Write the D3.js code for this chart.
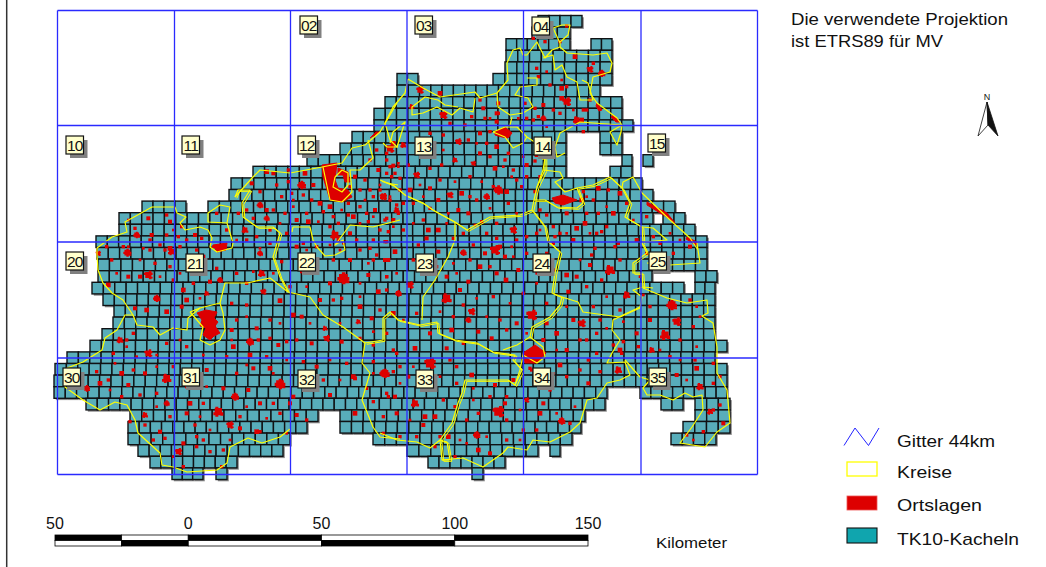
<!DOCTYPE html>
<html>
<head>
<meta charset="utf-8">
<script src="https://cdn.jsdelivr.net/npm/d3@7"></script>
<style>
  html, body { margin: 0; background: #fff; }
  svg { display: block; }
  text { font-family: "Liberation Sans", Arial, sans-serif; fill: #111; }
</style>
</head>
<body>
<svg id="map" width="1046" height="567"></svg>
<script>
// Grid of the 44 km sheets, in map units
const gridU = [7.5, 124.5, 240.5, 357, 473.5, 591, 707.5];
const gridV = [0.5, 115.5, 232, 348, 464.5];

// Sheet labels: name, map position of the box
const sheetNames = ["02", "03", "04", "10", "11", "12", "13", "14", "15", "20", "21", "22", "23", "24", "25", "30", "31", "32", "33", "34", "35"];
const sheetU = [250, 365, 482, 16, 132, 248, 365, 484, 598, 16, 136, 248, 366, 483, 599, 13, 132, 248, 366, 483, 599];
const sheetV = [6, 6, 7, 126, 126, 126, 127, 127, 124, 242, 244, 243, 244, 244, 242, 358, 358, 360, 360, 358, 358];

// TK10 tiles: runs of tiles per row, [from, to] in map units
const tileRuns = [
  [[488, 532]],
  [[482, 520]],
  [[456, 520], [541, 562]],
  [[456, 562]],
  [[455, 562]],
  [[347, 368], [443, 562]],
  [[347, 550]],
  [[335, 572]],
  [[324, 572]],
  [[324, 583]],
  [[302, 516], [550, 572]],
  [[290, 516], [550, 572]],
  [[257, 516], [572, 582], [593, 603]],
  [[203, 516], [560, 582]],
  [[181, 592]],
  [[179, 603]],
  [[92, 136], [158, 625]],
  [[69, 603], [613, 635]],
  [[69, 645]],
  [[46, 657]],
  [[47, 657]],
  [[48, 657]],
  [[48, 602], [645, 667]],
  [[42, 634], [645, 665]],
  [[53, 665]],
  [[64, 665]],
  [[63, 665]],
  [[52, 665]],
  [[40, 677]],
  [[17, 665]],
  [[5, 677]],
  [[4, 677]],
  [[4, 557], [590, 677]],
  [[36, 555], [611, 633], [645, 680]],
  [[80, 268], [290, 535], [645, 680]],
  [[78, 257], [290, 531], [633, 680]],
  [[78, 240], [323, 522], [621, 666]],
  [[88, 233], [357, 488], [500, 510]],
  [[100, 187], [378, 455]],
  [[122, 153], [166, 177], [422, 433]]
];

// Kreise boundaries in map units
const kreise = [
  [[47,238],[62,227],[77,222],[75,212],[102,197],[125,197],[127,203],[136,207],[130,213],[135,220],[150,217],[158,220],[162,228],[160,237],[167,242],[182,238],[183,233],[177,213],[180,197],[170,195],[158,203],[158,212],[177,213]],
  [[47,238],[47,245],[48,260],[53,273],[62,283],[73,290],[83,305],[87,315],[103,317],[110,325],[123,318],[137,320],[138,308],[150,298]],
  [[83,305],[75,305],[67,320],[55,328],[52,340],[33,352],[17,358],[15,377],[33,390],[50,400],[65,392],[77,395],[85,410],[88,423],[110,443],[112,455],[123,457],[137,462],[167,460],[177,453],[180,437],[198,428],[212,433],[230,427],[240,419]],
  [[140,302],[150,298],[170,293],[173,303],[175,320],[170,330],[160,335],[150,330],[153,317],[147,310],[140,302]],
  [[170,293],[175,273],[197,273],[220,268],[238,282],[260,287],[273,305],[293,317],[315,333],[312,353],[320,363],[312,390],[323,417],[330,427],[350,429]],
  [[315,333],[333,330],[333,308],[340,302],[348,310],[370,315],[387,312],[388,323],[405,330],[427,333],[443,342],[465,345],[463,350],[472,360],[465,375],[458,370],[415,370],[412,383],[408,393],[402,413],[390,430],[392,450],[400,450],[397,432],[390,430]],
  [[330,423],[347,430],[367,432],[380,438],[390,430]],
  [[392,450],[413,448],[433,457],[453,443],[458,437],[477,440],[483,430],[500,432],[520,422],[530,413],[537,390],[547,388],[557,373],[570,370],[580,365],[575,352],[557,353],[562,343],[570,330],[562,320],[563,310],[573,305],[590,297],[592,287],[583,280],[593,277],[603,278]],
  [[593,278],[617,288],[637,293],[657,290],[658,303],[652,306],[663,313],[667,337],[667,363],[677,380],[680,413],[667,422],[655,437],[630,433],[642,417],[653,400],[652,385],[643,387],[635,383],[623,390],[610,385],[597,385],[593,378],[600,370],[590,367],[575,350]],
  [[593,277],[592,263],[583,263],[583,253],[597,243],[592,233],[593,232],[592,217],[575,207],[580,193],[572,178],[560,167],[543,175],[527,178],[533,193],[527,198],[507,197],[495,190],[484,190]],
  [[597,253],[620,255],[650,253],[647,233],[648,240],[640,228],[620,210],[592,183],[583,167],[573,172],[572,178]],
  [[592,217],[603,218],[617,230],[593,232]],
  [[495,148],[495,160],[487,177],[484,190],[482,200],[470,205],[440,207],[417,220],[405,212],[383,200],[373,193],[355,185],[343,175],[330,170]],
  [[482,200],[495,217],[498,232],[500,233],[510,242],[505,263],[502,283],[512,287],[510,295],[500,307],[482,317],[480,327]],
  [[512,287],[528,292],[533,302],[570,307],[590,298]],
  [[453,340],[467,335],[480,327],[493,337],[495,347],[487,353],[473,345],[470,360],[465,375]],
  [[405,212],[405,230],[398,247],[385,270],[373,287],[372,310]],
  [[493,160],[510,162],[513,168],[505,172],[515,182],[527,178]],
  [[487,177],[493,160],[495,148]],
  [[358,69],[373,78],[390,87],[425,82],[430,88],[447,83],[458,70],[457,53],[463,40],[470,38],[473,45],[477,45],[487,32],[495,48],[502,40],[510,37],[517,43],[543,45],[557,43],[562,53],[560,62],[543,67],[540,83],[547,93],[567,108],[572,115],[560,122],[567,135],[571,122],[572,115]],
  [[510,37],[510,33],[503,18],[512,15],[520,15],[518,25],[510,32]],
  [[493,48],[503,45],[505,60],[512,55],[517,67],[527,72],[530,90],[543,90],[538,73],[532,70]],
  [[572,115],[543,113],[530,112],[510,123],[505,137],[507,147],[515,143]],
  [[358,69],[355,83],[343,97],[335,113],[340,130],[347,137],[355,112],[343,122],[340,133]],
  [[443,122],[455,117],[467,117],[477,127],[492,137],[493,150]],
  [[443,122],[455,127],[463,138],[473,133],[477,127]],
  [[462,107],[460,115]],
  [[447,83],[448,97],[460,105],[473,103],[483,97],[478,88],[465,85],[470,77],[487,75],[487,68],[477,68]],
  [[425,88],[423,102],[410,98],[402,105],[387,97],[373,103],[362,105],[362,97],[375,87],[388,90],[395,95],[408,97]],
  [[185,187],[203,167],[210,160],[240,163],[272,157],[292,153],[302,138],[315,135],[330,122],[347,93]],
  [[333,133],[337,137],[348,137]],
  [[318,130],[323,148],[310,160],[300,160],[302,182],[292,192],[280,190],[273,157]],
  [[285,167],[283,177],[292,182],[298,175],[298,163],[292,160],[285,167]],
  [[185,187],[188,180],[200,180],[192,193],[193,207],[207,217],[223,217],[230,223],[228,230],[223,247],[230,267],[238,282]],
  [[243,217],[260,217],[263,230],[267,237],[275,246],[285,245],[295,240],[293,230],[285,235],[300,215],[323,217],[350,210]],
  [[337,173],[348,175]],
  [[242,222],[243,217]]
];
// Neighbouring Kreise whose edges do not meet, drawn a second time slightly shifted
const kreiseDoppelt = [5, 9, 12, 13, 33];

// Larger Ortslagen outlines in map units
const ortsFlaechen = [
  [[272,155],[287,153],[285,170],[288,178],[298,180],[302,187],[292,192],[280,190],[277,180],[273,167]],
  [[288,158],[298,162],[300,172],[295,172],[293,165],[288,165]],
  [[147,303],[156,300],[167,302],[164,308],[168,312],[165,316],[170,323],[164,326],[160,330],[153,325],[156,318],[150,316],[152,310]],
  [[473,343],[485,335],[496,343],[487,353],[475,353]],
  [[502,188],[513,185],[527,190],[513,195],[505,193]],
  [[445,122],[455,117],[462,123],[458,128],[452,127],[445,125]],
  [[163,235],[177,233],[176,240],[167,242]],
  [[597,192],[617,203],[625,213],[615,206],[597,195]],
  [[637,227],[647,232],[646,235],[636,229]],
  [[563,105],[570,112],[566,112],[561,107]],
  [[547,93],[552,100],[549,101],[546,96]],
  [[330,122],[320,128],[326,122]]
];

// Small Ortslagen per map quarter: [x, y, size], read at 1/3 px
const ortsNW = [
  [700,520,12],[680,515,14],[795,520,14],[635,550,12],[660,575,10],[710,555,10],[745,545,10],[785,555,26],[820,555,12],[840,610,14],[790,585,10],[815,600,10],[725,590,10],[660,615,20],[620,630,10],[680,630,12],[680,655,18],[615,690,20],[650,710,10],[560,690,10],[530,640,10],[770,660,12],[805,665,14],[885,705,28],[740,700,10],[830,740,10],[790,730,10],[770,740,12],[870,620,14],[880,650,10],[925,610,10],[960,620,10],[940,650,14],[980,640,10],[1005,630,12],[870,680,10],[930,700,12],[1000,720,10],[1040,725,10],[1015,510,12],[990,480,10],[1040,460,10],[1060,430,14],[990,570,10],[1030,590,20],[1050,600,10],[945,530,12],[1000,590,10],[930,560,10],[290,705,20],[285,685,10],[325,655,12],[265,660,8],[380,645,10],[390,665,12],[335,705,12],[380,705,10],[425,680,10],[465,705,12],[390,745,14],[360,735,10],[440,720,10],[485,715,10],[420,740,10],[265,740,8],[1070,615,10],[1020,570,10],[1065,520,10],
  [745,510,10],[755,580,10],[760,600,8],[700,630,10],[735,640,10],[720,670,8],[690,690,10],[595,640,10],[590,720,8],[640,655,10],[850,635,10],[905,630,8],[895,670,10],[925,645,10],[960,670,8],[985,665,10],[1020,690,10],[1060,680,8],[1075,640,10],[1040,655,10],[1000,650,8],[960,570,10],[975,600,8],[895,720,10],[910,730,8],[950,720,10],[990,745,10],[870,735,8],[690,730,10],[660,745,8],[620,720,10],[760,620,8],[800,640,10],[835,665,8],[975,540,10],[1020,555,8],[1050,500,10],[1075,500,8],[330,720,10],[310,745,8],[415,710,10],[400,690,8],[1010,450,10]
];
const ortsNE = [
  [120,270,22],[180,280,14],[95,320,16],[190,345,24],[310,325,12],[355,340,10],[315,355,10],[275,350,10],[350,365,12],[210,370,10],[255,375,10],[300,400,12],[235,425,20],[190,405,10],[150,400,10],[330,395,10],[300,460,12],[330,470,10],[350,440,14],[385,460,10],[225,480,16],[280,490,16],[345,505,14],[375,480,10],[440,495,12],[465,483,10],[410,540,10],[110,525,20],[40,497,12],[85,495,10],[150,505,10],[185,495,10],[70,435,18],[30,445,26],[35,530,10],[60,535,10],[150,565,12],[90,570,14],[245,580,14],[210,585,20],[355,570,28],[270,590,10],[380,575,14],[320,590,20],[50,630,18],[10,590,22],[100,610,10],[175,600,12],[235,630,12],[265,640,12],[305,665,10],[400,690,22],[145,690,14],[175,690,14],[70,690,10],[15,660,10],[40,660,12],[220,715,10],[320,700,10],[350,670,10],[15,725,10],[140,715,12],[115,735,10],[280,735,10],[360,740,12],[410,720,10],[470,205,10],[510,255,10],[545,265,14],[560,305,26],[545,295,14],[590,360,22],[630,208,20],[665,220,22],[640,190,10],[475,350,10],[490,355,18],[440,355,10],[490,315,12],[435,310,10],[465,325,10],[540,340,10],[610,330,10],[620,330,10],[355,310,12],[350,340,12],[495,125,10],[540,125,10],[460,115,10],[560,78,10],[585,170,14],[605,360,14],[610,395,10],[655,640,10],[685,570,10],[720,580,14],[655,565,14],[610,575,10],[640,600,10],[605,600,14],[615,670,14],[665,695,10],[700,640,14],[560,640,12],[590,685,14],[520,680,10],[650,700,10],[715,730,10],[770,720,12],[820,710,10],[480,530,10],[465,575,10],[500,645,10],[480,630,10],[580,720,12],[525,710,10],[470,700,10],[470,465,12],[440,530,10],
  [20,480,10],[55,490,8],[120,450,10],[190,450,8],[265,420,10],[290,430,8],[320,430,10],[370,500,8],[400,510,10],[430,470,8],[20,520,10],[60,570,10],[120,555,8],[180,540,10],[225,545,8],[270,530,10],[305,545,8],[340,560,10],[395,530,8],[425,560,10],[30,590,8],[70,610,10],[130,590,8],[150,625,10],[205,640,8],[290,600,10],[330,625,8],[385,610,10],[410,640,8],[25,695,10],[100,670,8],[130,660,10],[200,670,8],[250,700,10],[285,675,8],[350,715,10],[395,740,8],[440,710,10],[480,690,8],[520,730,10],[560,700,8],[620,640,10],[630,700,8],[680,680,10],[680,620,8],[740,610,10],[760,660,8],[800,650,10],[870,700,8],[840,730,10],[900,720,8],[540,700,10],[620,590,8],[560,260,10],[580,330,8],[520,330,10],[500,380,8],[460,360,10],[415,355,8],[300,300,10],[330,355,8],[630,300,10],[545,240,8],[475,230,10],[500,215,8]
];
const ortsSW = [
  [175,40,16],[262,38,24],[395,35,22],[325,105,26],[350,175,22],[380,215,14],[320,210,14],[285,205,12],[240,300,20],[325,340,24],[205,135,14],[215,60,10],[265,110,12],[300,110,12],[345,70,10],[375,30,10],[390,80,10],[430,150,14],[440,180,14],[425,200,12],[500,160,16],[510,125,12],[540,120,18],[530,85,10],[490,50,12],[660,40,18],[665,100,22],[670,155,18],[630,305,24],[630,345,14],[580,320,14],[575,270,12],[620,195,10],[575,190,10],[720,182,14],[650,265,12],[715,315,12],[690,295,10],[740,305,10],[760,225,14],[785,230,12],[855,265,16],[860,295,20],[910,115,36],[955,245,16],[930,60,12],[1015,155,14],[870,130,12],[840,180,12],[770,300,10],[815,310,12],[905,305,12],[1000,315,10],[1060,330,10],[1060,220,14],[995,235,12],[1045,60,12],[1010,45,10],[985,105,12],[1000,60,10],[905,175,10],[960,200,14],[380,415,28],[245,400,14],[140,445,20],[180,430,14],[315,400,12],[265,435,12],[245,470,10],[205,420,10],[380,490,18],[315,525,18],[450,490,14],[315,555,10],[440,520,12],[360,575,12],[375,595,10],[430,610,12],[415,635,22],[465,555,10],[535,515,30],[570,555,22],[585,470,24],[510,635,10],[550,630,10],[490,600,10],[600,565,12],[650,575,14],[720,432,32],[690,385,14],[640,385,12],[625,450,12],[660,490,12],[550,445,12],[770,525,12],[800,540,10],[760,470,12],[870,465,12],[940,410,14],[945,520,14],[1030,400,24],[1000,365,10],[1045,470,10],[1000,485,10],[945,415,12],[980,445,10],[430,680,10],[545,680,10],[270,545,10],[500,390,12],[440,440,10],[400,380,10],[350,460,10],[470,400,10],[700,490,10],[750,490,12],[830,380,12],
  [200,20,10],[230,100,8],[250,20,10],[300,60,8],[330,30,10],[360,110,8],[400,120,10],[420,100,8],[460,130,10],[480,175,8],[470,30,10],[520,20,8],[590,100,10],[640,95,8],[620,130,10],[700,100,8],[725,65,10],[800,30,8],[785,95,10],[830,60,8],[880,60,10],[900,30,8],[960,30,10],[985,70,8],[1040,110,10],[960,130,8],[1020,210,10],[960,170,8],[880,180,10],[800,140,8],[750,140,10],[720,250,8],[690,240,10],[620,230,8],[590,240,10],[575,300,8],[655,300,10],[810,250,8],[960,295,10],[900,250,8],[1040,280,10],[1000,275,8],[280,280,10],[260,320,8],[220,340,10],[290,350,8],[260,300,10],[350,345,8],[380,310,10],[420,300,8],[440,320,10],[490,345,8],[560,350,10],[620,375,8],[680,350,10],[740,360,8],[790,365,10],[870,360,8],[920,370,10],[1000,400,8],[1060,395,10],[900,420,8],[850,420,10],[700,400,8],[590,400,10],[500,440,8],[440,400,10],[350,380,8],[280,390,10],[225,370,8],[170,395,10],[210,450,8],[300,465,10],[350,500,8],[390,530,10],[480,530,8],[490,490,10],[620,500,8],[600,530,10],[680,535,8],[720,520,10],[740,580,8],[660,575,10],[570,600,8],[470,620,10],[400,650,8],[340,600,10],[510,570,8],[470,590,10]
];
const ortsSE = [
  [345,30,30],[250,38,20],[315,40,12],[175,35,12],[45,35,14],[15,60,12],[90,135,22],[55,160,20],[200,175,30],[275,215,22],[200,110,12],[300,80,14],[350,100,12],[378,120,14],[265,125,12],[240,150,12],[415,90,12],[375,50,12],[455,225,32],[265,240,18],[215,270,14],[295,275,12],[335,295,12],[360,240,10],[410,250,12],[500,250,12],[530,280,14],[605,250,24],[580,240,12],[690,90,30],[630,75,12],[665,120,10],[740,165,22],[620,140,10],[590,110,12],[565,155,12],[520,90,10],[560,105,14],[635,45,10],[705,20,10],[645,25,10],[855,285,30],[890,245,26],[875,195,32],[815,330,18],[930,20,12],[880,40,10],[800,40,10],[810,240,12],[770,280,12],[1000,370,10],[950,385,14],[890,405,12],[960,440,22],[1000,430,10],[850,400,10],[715,390,22],[150,370,34],[15,400,28],[105,490,24],[135,530,14],[50,520,12],[10,580,10],[355,515,34],[290,585,22],[295,630,14],[330,640,12],[205,590,14],[225,650,10],[225,500,10],[545,543,22],[480,520,14],[440,480,16],[490,490,12],[560,410,10],[625,430,12],[540,375,14],[625,360,10],[660,395,10],[1000,510,10],[990,515,18],[1030,550,12],[970,575,10],[920,585,10],[940,600,8],[1020,495,10],[210,360,10],[275,405,14],[345,435,12],[230,380,10],[450,385,10],[295,520,10],[60,590,10],[130,555,12],[165,620,10],[110,590,10],[85,410,12],[45,470,12],[375,490,12],[380,470,10],[400,420,12],[455,390,10],[720,330,14],[730,305,10],[700,315,10],[620,300,10],[560,330,12],[490,300,12],[650,340,10],[725,340,10],[250,310,10],[200,325,12],[150,280,12],[105,325,14],[50,340,10],[165,530,14],[430,570,10],
  [20,110,10],[50,100,8],[20,150,10],[40,220,8],[100,60,10],[130,90,8],[170,80,10],[220,70,8],[270,60,10],[230,100,8],[330,80,10],[400,50,8],[440,40,10],[470,100,8],[500,40,10],[470,130,8],[430,160,10],[390,190,8],[340,170,10],[290,175,8],[250,195,10],[180,215,8],[110,220,10],[70,240,8],[220,230,10],[320,230,8],[380,270,10],[440,280,8],[500,190,10],[560,200,8],[640,200,10],[680,170,8],[720,210,10],[790,165,8],[810,200,10],[780,110,8],[720,60,10],[600,60,8],[660,240,10],[730,245,8],[650,280,10],[680,265,8],[600,300,10],[530,330,8],[775,320,10],[840,330,8],[900,300,10],[950,320,8],[940,260,10],[960,230,8],[930,180,10],[950,200,8],[870,350,10],[900,360,8],[945,360,10],[100,380,8],[60,380,10],[60,430,8],[20,460,10],[90,540,8],[10,530,10],[180,410,8],[230,430,10],[280,445,8],[190,480,10],[280,480,8],[330,470,10],[420,510,8],[380,540,10],[320,590,8],[260,540,10],[260,610,8],[180,590,10],[240,600,8],[380,600,10],[420,600,8],[470,570,10],[530,520,8],[600,390,10],[520,400,8],[510,450,10],[585,500,8],[570,550,10],[470,430,8],[1020,410,10],[920,420,8],[860,440,10]
];

// Scale bar
const barBreaks = [-50, -25, 0, 50, 100, 150];
const barTicks = [-50, 0, 50, 100, 150];

// Legend
const legendNames = ["Gitter 44km", "Kreise", "Ortslagen", "TK10-Kacheln"];
const legendWidths = [98, 55, 85, 122];

const svg = d3.select("#map");

const xMap = d3.scaleLinear().domain([0, 700]).range([50, 750]);
const yMap = d3.scaleLinear().domain([0, 460]).range([10, 470]);
const rowY = d3.scaleLinear().domain([0, 40]).range([15.5, 479.5]);
const kmX = d3.scaleLinear().domain([-50, 150]).range([55, 588]);

const quarters = [
  { points: ortsNW, x: [40, 400], y: [0, 250] },
  { points: ortsNE, x: [380, 740], y: [0, 250] },
  { points: ortsSW, x: [40, 400], y: [240, 490] },
  { points: ortsSE, x: [380, 740], y: [240, 490] }
];

// Tiles: a run is split into cells of about 11.4 units
const tiles = [];
tileRuns.forEach((runs, row) => {
  for (const [from, to] of runs) {
    const n = Math.max(1, Math.round((to - from) / 11.4));
    const w = (to - from) / n;
    for (let i = 0; i < n; i++) tiles.push({ u: from + i * w, w, row });
  }
});

const tileLayer = svg.append("g");
tileLayer
  .selectAll("rect.shadow")
  .data(tiles)
  .join("rect")
  .attr("class", "shadow")
  .attr("x", (d) => xMap(d.u) + 1.8)
  .attr("y", (d) => rowY(d.row) + 1.8)
  .attr("width", (d) => d.w)
  .attr("height", rowY(1) - rowY(0))
  .attr("fill", "#8a8a8a");
tileLayer
  .selectAll("rect.tile")
  .data(tiles)
  .join("rect")
  .attr("class", "tile")
  .attr("x", (d) => xMap(d.u))
  .attr("y", (d) => rowY(d.row))
  .attr("width", (d) => d.w)
  .attr("height", rowY(1) - rowY(0))
  .attr("fill", "#58adba")
  .attr("stroke", "#101214")
  .attr("stroke-width", 1.4);

// Ortslagen
const line = d3.line().x((d) => xMap(d[0])).y((d) => yMap(d[1]));
const ortLayer = svg.append("g").attr("fill", "#dd0000");
ortLayer
  .selectAll("path")
  .data(ortsFlaechen)
  .join("path")
  .attr("d", (d) => line(d) + "Z")
  .attr("stroke", "#dd0000")
  .attr("stroke-width", 1);

// Small places are squares, bigger ones get a jagged outline from a few rectangles
function placePath(s, i) {
  const box = (x, y, w, h) => `M${x} ${y}h${w}v${h}h${-w}Z`;
  if (s <= 5) return box(-s / 2, -s / 2, s, s);
  const k = ((i % 3) - 1) * 0.18 * s;
  return (
    box(-0.36 * s, -0.36 * s, 0.72 * s, 0.72 * s) +
    box(-0.5 * s, -0.12 * s + k, s, 0.3 * s) +
    box(-0.12 * s - k, -0.5 * s, 0.3 * s, s) +
    box(0.2 * s, 0.2 * s, 0.3 * s, 0.2 * s)
  );
}

for (const q of quarters) {
  const qx = d3.scaleLinear().domain([0, 1080]).range(q.x);
  const qy = d3.scaleLinear().domain([0, 750]).range(q.y);
  ortLayer
    .append("g")
    .selectAll("path")
    .data(q.points)
    .join("path")
    .attr("transform", (d) => `translate(${qx(d[0])},${qy(d[1])})`)
    .attr("d", (d, i) => placePath(d[2] / 3, i));
}

// Kreise
const kreisLayer = svg
  .append("g")
  .attr("fill", "none")
  .attr("stroke", "#ffff00")
  .attr("stroke-width", 1.2)
  .attr("stroke-linejoin", "round");
kreisLayer.selectAll("path.main").data(kreise).join("path").attr("class", "main").attr("d", line);
kreisLayer
  .selectAll("path.twin")
  .data(kreiseDoppelt)
  .join("path")
  .attr("class", "twin")
  .attr("stroke-width", 1)
  .attr("transform", "translate(1.8,1.3)")
  .attr("d", (i) => line(kreise[i]));

// Gitter
const gridLayer = svg.append("g").attr("stroke", "#2a2aff").attr("stroke-width", 1.3);
gridLayer
  .selectAll("line.v")
  .data(gridU)
  .join("line")
  .attr("class", "v")
  .attr("x1", (d) => xMap(d))
  .attr("x2", (d) => xMap(d))
  .attr("y1", yMap(gridV[0]))
  .attr("y2", yMap(gridV[4]));
gridLayer
  .selectAll("line.h")
  .data(gridV)
  .join("line")
  .attr("class", "h")
  .attr("y1", (d) => yMap(d))
  .attr("y2", (d) => yMap(d))
  .attr("x1", xMap(gridU[0]))
  .attr("x2", xMap(gridU[6]));

// Sheet labels
const labels = svg
  .append("g")
  .selectAll("g")
  .data(sheetNames)
  .join("g")
  .attr("transform", (d, i) => `translate(${xMap(sheetU[i])},${yMap(sheetV[i])})`);
labels
  .append("rect")
  .attr("x", 4)
  .attr("y", 4)
  .attr("width", 17.5)
  .attr("height", 18)
  .attr("fill", "#808080");
labels
  .append("rect")
  .attr("width", 17.5)
  .attr("height", 18)
  .attr("fill", "#ffffcc")
  .attr("stroke", "#111")
  .attr("stroke-width", 1.2);
labels
  .append("text")
  .attr("x", 8.75)
  .attr("y", 15)
  .attr("text-anchor", "middle")
  .attr("font-size", 15.5)
  .attr("letter-spacing", -0.9)
  .text((d) => d);

// Left page border
svg.append("line").attr("x1", 6.7).attr("x2", 6.7).attr("y1", 0).attr("y2", 567).attr("stroke", "#333").attr("stroke-width", 1.5);

// Note on the projection
svg
  .selectAll("text.note")
  .data(["Die verwendete Projektion", "ist ETRS89 für MV"])
  .join("text")
  .attr("class", "note")
  .attr("x", 791)
  .attr("y", (d, i) => 25 + i * 21.5)
  .attr("font-size", 16.5)
  .attr("textLength", (d, i) => (i ? 152 : 217))
  .attr("lengthAdjust", "spacingAndGlyphs")
  .text((d) => d);

// North arrow
svg.append("text").attr("x", 987).attr("y", 100).attr("text-anchor", "middle").attr("font-size", 9).text("N");
svg.append("path").attr("d", "M987 102L978 136L988 125Z").attr("fill", "#fff").attr("stroke", "#111").attr("stroke-width", 0.8);
svg.append("path").attr("d", "M987 102L998 136L988 125Z").attr("fill", "#111").attr("stroke", "#111").attr("stroke-width", 0.8);

// Scale bar
const barY = 535;
barBreaks.slice(1).forEach((to, i) => {
  const from = barBreaks[i];
  const topFill = i % 2 ? "#fff" : "#000";
  const botFill = i % 2 ? "#000" : "#fff";
  svg.append("rect").attr("x", kmX(from)).attr("y", barY).attr("width", kmX(to) - kmX(from)).attr("height", 5.5).attr("fill", topFill).attr("stroke", "#000").attr("stroke-width", 0.8);
  svg.append("rect").attr("x", kmX(from)).attr("y", barY + 5.5).attr("width", kmX(to) - kmX(from)).attr("height", 5.5).attr("fill", botFill).attr("stroke", "#000").attr("stroke-width", 0.8);
});
svg
  .selectAll("text.km")
  .data(barTicks)
  .join("text")
  .attr("class", "km")
  .attr("x", (d) => kmX(d))
  .attr("y", 529)
  .attr("text-anchor", "middle")
  .attr("font-size", 16)
  .text((d) => Math.abs(d));
svg.append("text").attr("x", 656).attr("y", 548).attr("font-size", 14.5).attr("textLength", 71).attr("lengthAdjust", "spacingAndGlyphs").text("Kilometer");

// Legend
const legendY = [447, 478, 511, 545];
svg
  .selectAll("text.legend")
  .data(legendNames)
  .join("text")
  .attr("class", "legend")
  .attr("x", 897)
  .attr("y", (d, i) => legendY[i])
  .attr("font-size", 17)
  .attr("textLength", (d, i) => legendWidths[i])
  .attr("lengthAdjust", "spacingAndGlyphs")
  .text((d) => d);
svg.append("path").attr("d", "M844 445.5L855 428L868.5 445.5L879 428").attr("fill", "none").attr("stroke", "#2323ff").attr("stroke-width", 1);
svg.append("rect").attr("x", 847).attr("y", 462).attr("width", 30).attr("height", 14).attr("fill", "#fff").attr("stroke", "#ffff00").attr("stroke-width", 1.3);
svg.append("rect").attr("x", 847).attr("y", 496).attr("width", 30).attr("height", 14).attr("fill", "#dd0000").attr("stroke", "#ee5555").attr("stroke-width", 0.8);
svg.append("rect").attr("x", 847).attr("y", 528).attr("width", 30).attr("height", 15).attr("fill", "#10a5ae").attr("stroke", "#111").attr("stroke-width", 1.1);
</script>
</body>
</html>
